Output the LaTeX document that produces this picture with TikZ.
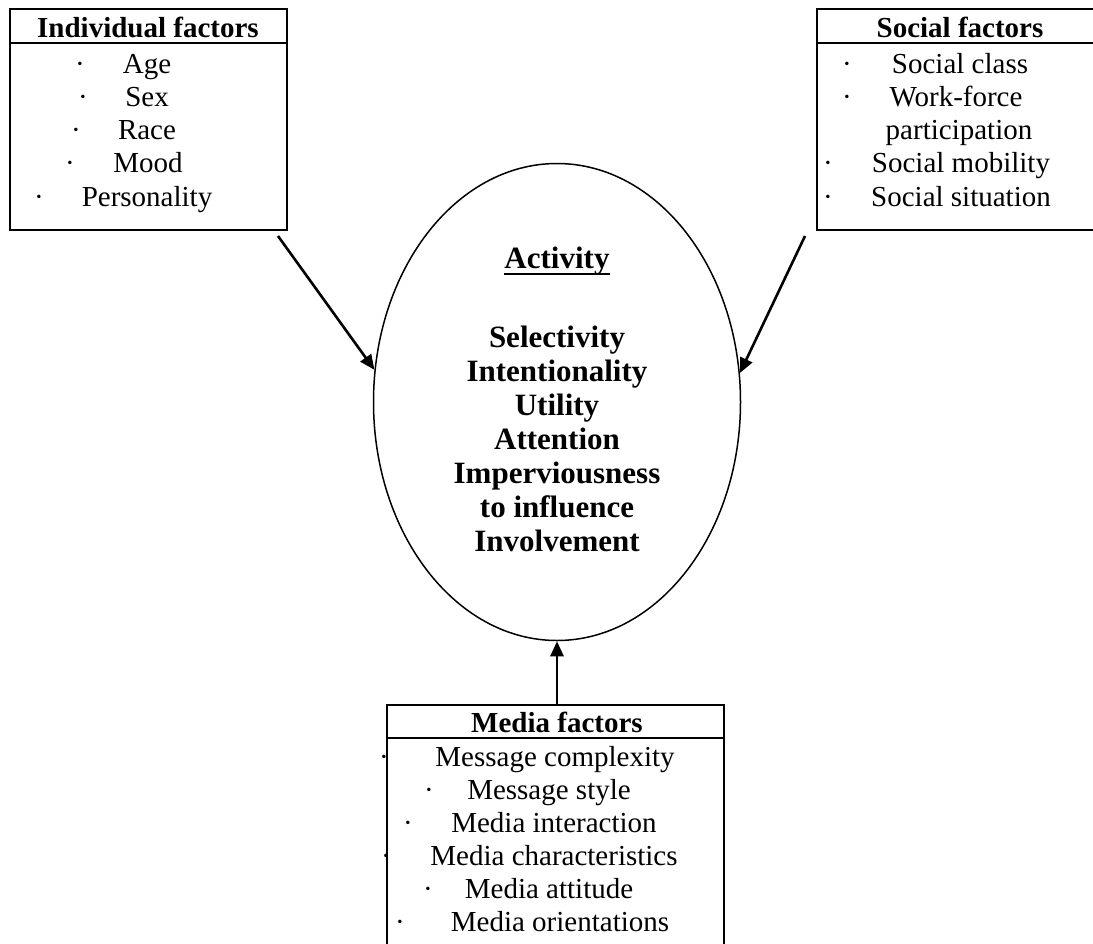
\documentclass[tikz,border=0pt]{standalone}
\usepackage{fontspec}
\setmainfont{Liberation Serif}
\usetikzlibrary{calc,shapes.geometric,arrows.meta}
\begin{document}
\begin{tikzpicture}[x=1pt,y=-1pt,
  boxstyle/.style={draw, line width=2pt, inner sep=0pt},
  divline/.style={line width=2pt},
  ovalstyle/.style={draw, ellipse, line width=1.5pt, inner sep=0pt, minimum width=367pt, minimum height=477pt},
  headtxt/.style={anchor=base, inner sep=0pt, font=\fontsize{29}{33}\selectfont\bfseries},
  itemtxt/.style={anchor=base, inner sep=0pt, font=\fontsize{29}{33}\selectfont},
  bultxt/.style={anchor=base, inner sep=0pt, font=\fontsize{29}{33}\selectfont},
  midtxt/.style={anchor=base, inner sep=0pt, font=\fontsize{31}{35}\selectfont\bfseries},
  flow/.style={line width=2.6pt, -{Triangle[length=15pt,width=13pt]}}
]
\useasboundingbox (0,0) rectangle (1093,943);

% ---------- boxes ----------
\node[boxstyle, minimum width=277pt, minimum height=221pt] (ind) at (148.5,119.5) {};
\draw[divline] ($(ind.north west)+(0,35)$) -- ($(ind.north east)+(0,35)$);
\node[boxstyle, minimum width=288pt, minimum height=221pt] (soc) at (961,119.5) {};
\draw[divline] ($(soc.north west)+(0,34.5)$) -- ($(soc.north east)+(0,34.5)$);
\node[boxstyle, minimum width=337pt, minimum height=260pt] (med) at (555.5,835) {};
\draw[divline] ($(med.north west)+(0,34)$) -- ($(med.north east)+(0,34)$);

% ---------- ellipse ----------
\node[ovalstyle] (ell) at (557,402) {};

% ---------- individual factors ----------
\node[headtxt] (indh) at (148,37) {Individual factors};
\node[itemtxt] (i1) at (147,73) {Age};
\node[itemtxt] (i2) at (147,106) {Sex};
\node[itemtxt] (i3) at (147,139) {Race};
\node[itemtxt] (i4) at (148,172) {Mood};
\node[itemtxt] (i5) at (147,206) {Personality};
\node[bultxt] (ib1) at (80,73) {·};
\node[bultxt] (ib2) at (83,106) {·};
\node[bultxt] (ib3) at (76,139) {·};
\node[bultxt] (ib4) at (70,172) {·};
\node[bultxt] (ib5) at (39,206) {·};

% ---------- social factors ----------
\node[headtxt] (soch) at (960,37) {Social factors};
\node[itemtxt] (s1) at (960,73) {Social class};
\node[itemtxt] (s2) at (956,106) {Work-force};
\node[itemtxt] (s3) at (959,139) {participation};
\node[itemtxt] (s4) at (961,172) {Social mobility};
\node[itemtxt] (s5) at (961,206) {Social situation};
\node[bultxt] (sb1) at (847,73) {·};
\node[bultxt] (sb2) at (847,106) {·};
\node[bultxt] (sb4) at (828,172) {·};
\node[bultxt] (sb5) at (828,206) {·};

% ---------- media factors ----------
\node[headtxt] (medh) at (557,732) {Media factors};
\node[itemtxt] (m1) at (555,766) {Message complexity};
\node[itemtxt] (m2) at (549,799) {Message style};
\node[itemtxt] (m3) at (554,832) {Media interaction};
\node[itemtxt] (m4) at (554,865) {Media characteristics};
\node[itemtxt] (m5) at (549,898) {Media attitude};
\node[itemtxt] (m6) at (560,931) {Media orientations};
\node[bultxt] (mb1) at (384,766) {·};
\node[bultxt] (mb2) at (429,799) {·};
\node[bultxt] (mb3) at (408,832) {·};
\node[bultxt] (mb4) at (386,865) {·};
\node[bultxt] (mb5) at (428,898) {·};
\node[bultxt] (mb6) at (400,931) {·};

% ---------- centre text ----------
\node[midtxt] (act) at (557,268) {Activity};
\draw[line width=2.6pt] ($(act.base west)+(0,6)$) -- ($(act.base east)+(0,6)$);
\node[midtxt] (c1) at (557,347) {Selectivity};
\node[midtxt] (c2) at (557,381) {Intentionality};
\node[midtxt] (c3) at (557,415) {Utility};
\node[midtxt] (c4) at (557,449) {Attention};
\node[midtxt] (c5) at (557,483) {Imperviousness};
\node[midtxt] (c6) at (557,517) {to influence};
\node[midtxt] (c7) at (557,551) {Involvement};

% ---------- arrows ----------
\coordinate (ia) at (278,236);
\coordinate (sa) at (805,236);
\coordinate (ma) at (557,705);
\draw[flow] (ia) -- (ell.170.5);
\draw[flow] (sa) -- (ell.9.4);
\draw[flow] (ma) -- (ell.south);
\end{tikzpicture}
\end{document}
